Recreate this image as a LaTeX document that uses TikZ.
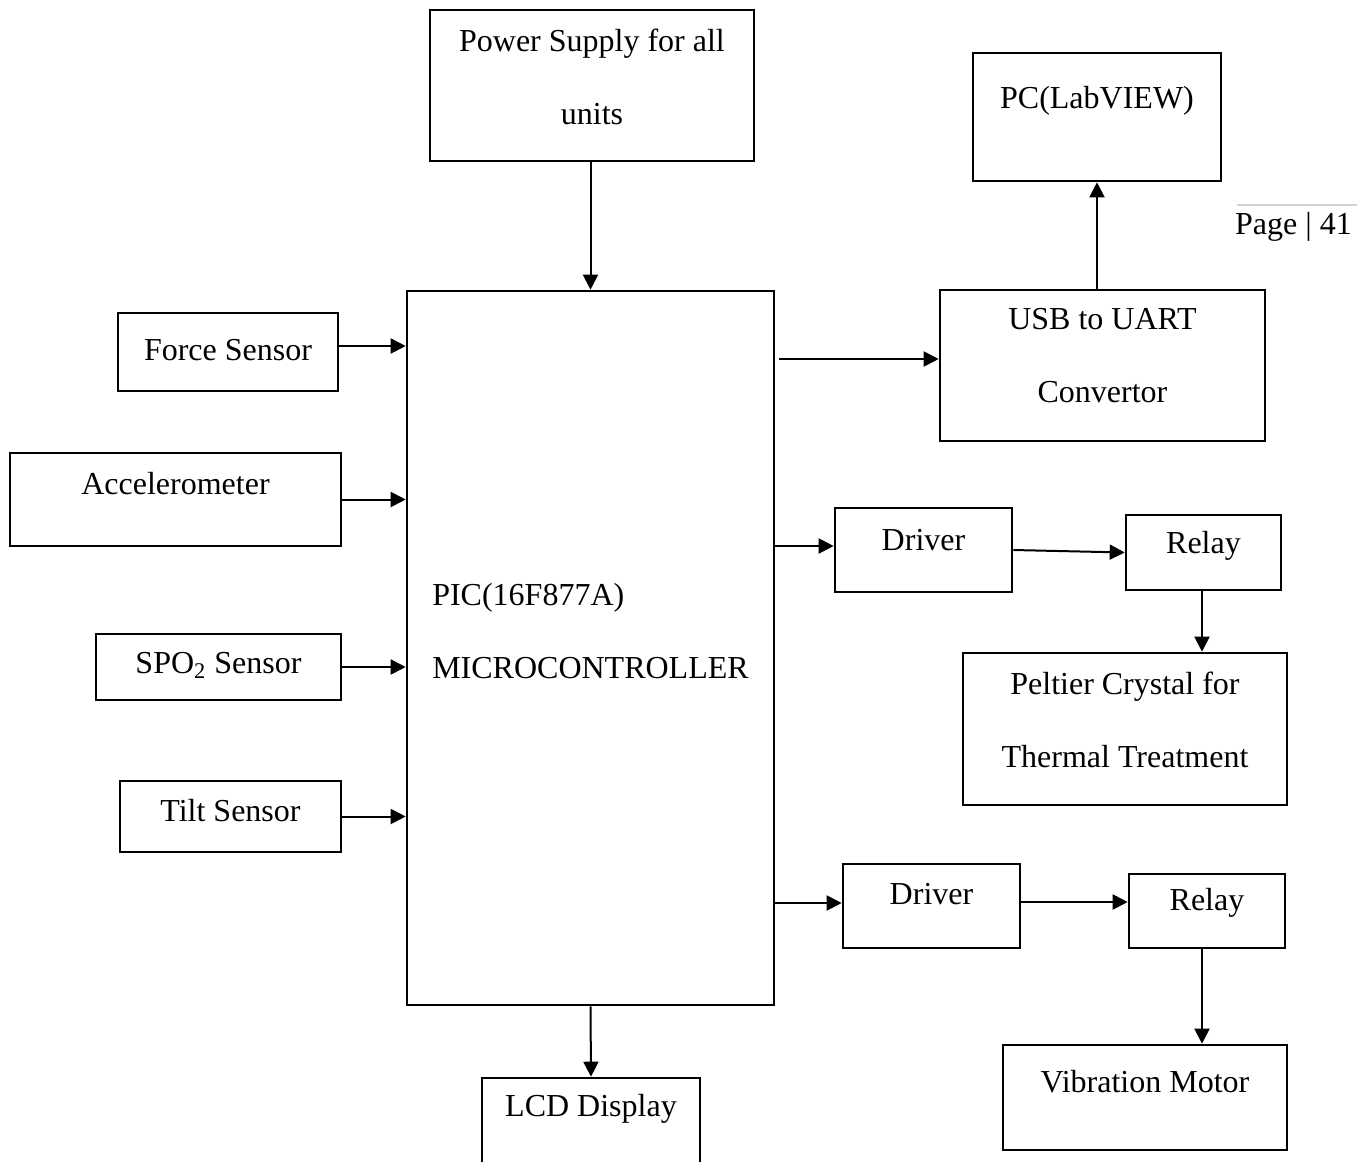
\documentclass[tikz,border=0pt]{standalone}
\usepackage{fontspec}
\setmainfont{Liberation Serif}
\usepackage{tikz}
\usetikzlibrary{arrows.meta}

\tikzset{
    blk/.style 2 args={draw, line width=1.3pt, minimum width=#1*0.5pt, minimum height=#2*0.5pt, inner sep=0pt},
    txt/.style={font=\fontsize{16}{36.5}\selectfont, align=center},
}

\begin{document}
\begin{tikzpicture}[x=0.5pt, y=-0.5pt, >={Triangle[length=7.5pt,width=7.5pt]}]
        \useasboundingbox (0,0) rectangle (1357,1162);
        \clip (0,0) rectangle (1357,1162);

        % Nodes
        \node (power) [blk={324}{151}, label={[txt, yshift=4.5pt]center:Power Supply for all\\units}] at (592,85.5) {};
        \node (pc) [blk={248}{128}, label={[txt, yshift=8pt]center:PC(LabVIEW)}] at (1097,117) {};
        \node (pic) [blk={367}{714}, label={[txt, align=left, yshift=8.5pt]center:PIC(16F877A)\\MICROCONTROLLER}] at (590.5,648) {};
        \node (force) [blk={220}{78}, label={[txt, yshift=1pt]center:Force Sensor}] at (228,352) {};
        \node (accel) [blk={331}{93}, label={[txt, yshift=7.75pt]center:Accelerometer}] at (175.5,499.5) {};
        \node (spo) [blk={245}{66}, label={[txt, yshift=1pt]center:SPO\textsubscript{2} Sensor}] at (218.5,667) {};
        \node (tilt) [blk={221}{71}, label={[txt, yshift=2.75pt]center:Tilt Sensor}] at (230.5,816.5) {};
        \node (usb) [blk={325}{151}, label={[txt, yshift=4.75pt]center:USB to UART\\Convertor}] at (1102.5,365.5) {};
        \node (drva) [blk={177}{84}, label={[txt, yshift=5pt]center:Driver}] at (923.5,550) {};
        \node (rela) [blk={155}{75}, label={[txt, yshift=3.25pt]center:Relay}] at (1203.5,552.5) {};
        \node (peltier) [blk={324}{152}, label={[txt, yshift=4.5pt]center:Peltier Crystal for\\Thermal Treatment}] at (1125,729) {};
        \node (drvb) [blk={177}{84}, label={[txt, yshift=6pt]center:Driver}] at (931.5,906) {};
        \node (relb) [blk={156}{74}, label={[txt, yshift=4pt]center:Relay}] at (1207,911) {};
        \node (vib) [blk={284}{105}, label={[txt, yshift=7.75pt]center:Vibration Motor}] at (1145,1097.5) {};
        \node (lcd) [blk={218}{140}, label={[txt, yshift=19.5pt]center:LCD Display}] at (591,1148) {};
        \node (page) [txt] at (1293.5,227) {Page | 41};
        \draw[gray!35, line width=1pt] (1237,205) -- (1357,205);

        % Arrows
        \begin{scope}[line width=1pt]
        \draw[->] (power.south -| pic.north) -- (pic.north);
        \draw[->] ([yshift=3pt]force.east) -- ([yshift=3pt]force.east -| pic.west);
        \foreach \s in {accel, spo, tilt} {
            \draw[->] (\s.east) -- (\s.east -| pic.west);
        }
        \draw[->] ([xshift=2pt]usb.west -| pic.east) ++(0,-6.5) -- ([yshift=3.25pt]usb.west);
        \draw[->] (usb.north -| pc.south) -- (pc.south);
        \draw[->] (drva.west -| pic.east) ++(0,-4) -- ([yshift=2pt]drva.west);
        \draw[->] (drva.east) -- (rela.west);
        \draw[->] (rela.south -| 1202,0) -- (peltier.north -| 1202,0);
        \draw[->] (drvb.west -| pic.east) ++(0,-3) -- ([yshift=1.5pt]drvb.west);
        \draw[->] ([yshift=2pt]drvb.east) -- ([yshift=2pt]drvb.east -| relb.west);
        \draw[->] (relb.south -| 1202,0) -- (vib.north -| 1202,0);
        \draw[->] (pic.south) -- (lcd.north);
        \end{scope}

    \end{tikzpicture}
\end{document}
